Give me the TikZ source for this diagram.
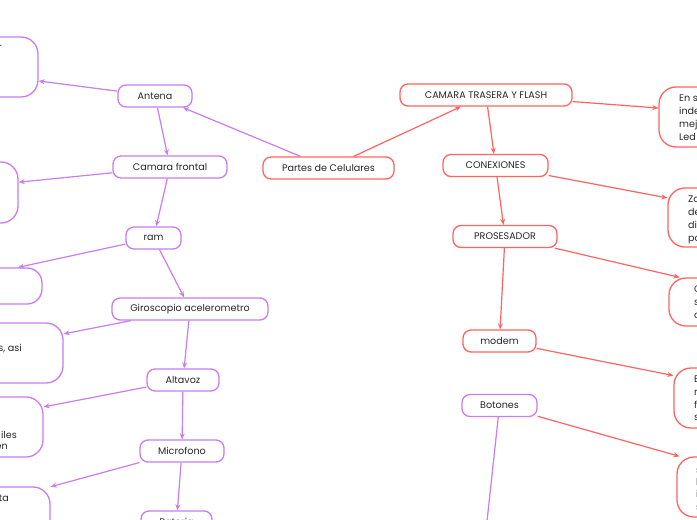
\documentclass[tikz,border=0pt]{standalone}
\usepackage{fontspec}
\setmainfont{Poppins}
\usetikzlibrary{arrows.meta}
\definecolor{pur}{RGB}{200,125,240}
\definecolor{redc}{RGB}{255,100,100}
\definecolor{txt}{RGB}{40,40,40}
\tikzset{
  base/.style={rounded corners=8pt, line width=1.3pt, minimum height=22pt, inner sep=0pt,
    text=txt, font=\fontsize{9.6}{12}\selectfont, fill=white},
  pnode/.style={base, draw=pur},
  rnode/.style={base, draw=redc},
  bigbox/.style={line width=1.3pt, rounded corners=17pt, inner sep=0pt, fill=white},
  pbox/.style={bigbox, draw=pur},
  rbox/.style={bigbox, draw=redc},
  parr/.style={draw=pur, line width=1.2pt, -{Stealth[length=6pt,width=5pt]}},
  rarr/.style={draw=redc, line width=1.2pt, -{Stealth[length=6pt,width=5pt]}},
  pline/.style={draw=pur, line width=1.2pt},
  frag/.style={text=txt, font=\fontsize{9.6}{12}\selectfont, inner sep=0pt},
}
\begin{document}
\begin{tikzpicture}[x=1pt,y=-1pt]
\useasboundingbox (0,0) rectangle (697,520);
\clip (0,0) rectangle (697,520);
\fill[white] (0,0) rectangle (697,520);

% left column (purple)
\node[pnode, minimum width=74pt]  (antena) at (155,96)   {Antena};
\node[pnode, minimum width=114pt] (camf)   at (170,167)  {Camara frontal};
\node[pnode, minimum width=55pt]  (ram)    at (153.5,238){ram};
\node[pnode, minimum width=156pt] (giro)   at (190,309)  {Giroscopio acelerometro};
\node[pnode, minimum width=72pt]  (alta)   at (183,380)  {Altavoz};
\node[pnode, minimum width=84pt]  (micro)  at (182,451)  {Microfono};
\node[pnode, minimum width=71pt]  (bat)    at (176.5,522){Bateria};

% left description boxes (mostly outside the frame)
\node[pbox, minimum width=216pt, minimum height=60pt] (lb1) at (-70,67) {};
\node[pbox, minimum width=204pt, minimum height=61pt] (lb2) at (-84,192.5) {};
\node[pbox, minimum width=220pt, minimum height=36pt, rounded corners=15pt] (lb3) at (-68,286) {};
\node[pbox, minimum width=193pt, minimum height=60pt] (lb4) at (-33.5,353) {};
\node[pbox, minimum width=208pt, minimum height=60pt] (lb5) at (-61,427) {};
\node[pbox, minimum width=222pt, minimum height=60pt] (lb6) at (-61,517) {};

\node[frag, anchor=base east] (t1) at (2,50) {r};
\node[frag, anchor=base east] (t4) at (22,351) {s, asi};
\node[frag, anchor=base east] (t5a) at (17,438) {iles};
\node[frag, anchor=base east] (t5b) at (8,449) {en};
\node[frag, anchor=base east] (t6) at (9,501) {ta};

% centre and right column
\node[rnode, minimum width=131pt] (partes) at (328.5,168) {Partes de Celulares};
\node[rnode, minimum width=172pt] (camt)   at (486,95)    {CAMARA TRASERA Y FLASH};
\node[rnode, minimum width=105pt] (conex)  at (495.5,165.5){CONEXIONES};
\node[rnode, minimum width=104pt] (prose)  at (505,236.5)  {PROSESADOR};
\node[rnode, minimum width=73pt]  (modem)  at (499.5,341)  {modem};
\node[pnode, minimum width=75pt]  (boton)  at (499.5,405.5){Botones};
\coordinate (botdown) at (485,540);

% right description boxes
\node[rbox, minimum width=236pt, minimum height=60pt] (rb1) at (777,117) {};
\node[rbox, minimum width=207pt, minimum height=59pt] (rb2) at (771.5,217.5) {};
\node[rbox, minimum width=232pt, minimum height=48pt] (rb3) at (785,302) {};
\node[rbox, minimum width=226pt, minimum height=60pt] (rb4) at (787,398) {};
\node[rbox, minimum width=222pt, minimum height=60pt] (rb5) at (788,487) {};

\node[frag, anchor=base west] (r1a) at (679,101.5) {En s};
\node[frag, anchor=base west] (r1b) at (679,114.5) {inde};
\node[frag, anchor=base west] (r1c) at (679,127.5) {mej};
\node[frag, anchor=base west] (r1d) at (679,140.5) {Led};
\node[frag, anchor=base west] (r2a) at (688,202.5) {Zo};
\node[frag, anchor=base west] (r2b) at (688,215.5) {de};
\node[frag, anchor=base west] (r2c) at (688,228.5) {di};
\node[frag, anchor=base west] (r2d) at (688,241.5) {po};
\node[frag, anchor=base west] (r3a) at (694,292.5) {C};
\node[frag, anchor=base west] (r3b) at (694,305.5) {s};
\node[frag, anchor=base west] (r3c) at (694,318.5) {c};
\node[frag, anchor=base west] (r4a) at (694,382.5) {E};
\node[frag, anchor=base west] (r4b) at (694,395.5) {r};
\node[frag, anchor=base west] (r4c) at (694,408.5) {f};
\node[frag, anchor=base west] (r4d) at (694,420.5) {s};
\node[frag, anchor=base west] (r5a) at (696,473) {s};
\node[frag, anchor=base west] (r5b) at (696,485) {l};
\node[frag, anchor=base west] (r5c) at (696,497) {i};
\node[frag, anchor=base west] (r5d) at (696,510) {s};

% connectors (purple)
\draw[parr] (partes) -- (antena);
\draw[parr] (antena) -- (lb1);
\draw[parr] (antena) -- (camf);
\draw[parr] (camf) -- (lb2);
\draw[parr] (camf) -- (ram);
\draw[parr] (ram) -- (lb3);
\draw[parr] (ram) -- (giro);
\draw[parr] (giro) -- (lb4);
\draw[parr] (giro) -- (alta);
\draw[parr] (alta) -- (lb5);
\draw[parr] (alta) -- (micro);
\draw[parr] (micro) -- (lb6);
\draw[parr] (micro) -- (bat);
\draw[pline] (boton) -- (botdown);

% connectors (red)
\draw[rarr] (partes) -- (camt);
\draw[rarr] (camt) -- (rb1);
\draw[rarr] (camt) -- (conex);
\draw[rarr] (conex) -- (rb2);
\draw[rarr] (conex) -- (prose);
\draw[rarr] (prose) -- (rb3);
\draw[rarr] (prose) -- (modem);
\draw[rarr] (modem) -- (rb4);
\draw[rarr] (boton) -- (rb5);
\end{tikzpicture}
\end{document}
